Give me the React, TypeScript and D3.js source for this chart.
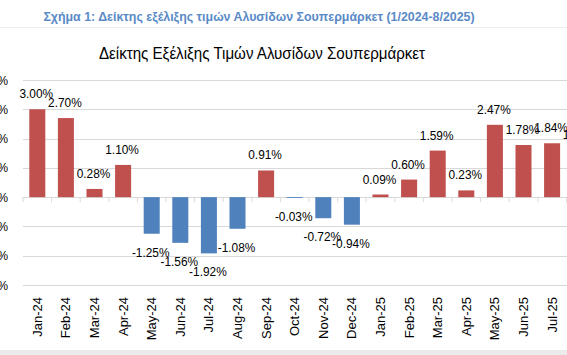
import React from "react";
import * as d3 from "d3";

const categories = ["Jan-24","Feb-24","Mar-24","Apr-24","May-24","Jun-24","Jul-24","Aug-24","Sep-24","Oct-24","Nov-24","Dec-24","Jan-25","Feb-25","Mar-25","Apr-25","May-25","Jun-25","Jul-25","Aug-25"];
const values = [3.00,2.70,0.28,1.10,-1.25,-1.56,-1.92,-1.08,0.91,-0.03,-0.72,-0.94,0.09,0.60,1.59,0.23,2.47,1.78,1.84,1.60];
const yTicks = [-3,-2,-1,0,1,2,3,4];
const caption = "Σχήμα 1: Δείκτης εξέλιξης τιμών Αλυσίδων Σουπερμάρκετ (1/2024-8/2025)";
const title = "Δείκτης Εξέλιξης Τιμών Αλυσίδων Σουπερμάρκετ";

const W = 567, H = 355;
const FONT = "'Liberation Sans', Arial, sans-serif";
const SX = 0.88;

export default function App() {
  const left = 23, step = 28.6;
  const x = d3.scaleBand<string>().domain(categories).range([left, left + step * categories.length]).paddingInner(0.44).paddingOuter(0.22);
  const y = d3.scaleLinear().domain([-3, 4]).range([285, 80]);
  const y0 = y(0);
  const st = x.step();
  const off = (st * 0.44) / 2;
  const fmt = (v: number) => v.toFixed(2) + "%";
  const sq = (tx: number, ty: number, s = SX) => `translate(${tx},${ty}) scale(${s},1)`;

  return (
    <svg width={W} height={H} style={{ position: "absolute", left: 0, top: 0, background: "#fff" }} fontFamily={FONT}>
      <rect x={0} y={0} width={W} height={H} fill="#fff" />
      <text transform={sq(259, 21, 1)} textAnchor="middle" fontSize={12.4} fontWeight="bold" fill="#5A8AC6">{caption}</text>
      <line x1={0} x2={W} y1={27.5} y2={27.5} stroke="#EEEEEE" strokeWidth={1} />
      <text transform={sq(262, 59, 0.9)} textAnchor="middle" fontSize={16.8} fill="#000">{title}</text>
      {yTicks.map(t => (
        <g key={t}>
          <line x1={left} x2={W} y1={Math.round(y(t)) + 0.5} y2={Math.round(y(t)) + 0.5} stroke="#D9D9D9" strokeWidth={1} />
          <text transform={sq(8, y(t) + 4.5)} textAnchor="end" fontSize={13.5} fill="#000">{t + "%"}</text>
        </g>
      ))}
      {categories.map((c) => (
        <line key={"t" + c} x1={(x(c) as number) - off} x2={(x(c) as number) - off} y1={y0} y2={y0 + 5} stroke="#D9D9D9" />
      ))}
      {categories.map((c, i) => {
        const v = values[i];
        const bx = x(c) as number;
        return (
          <rect key={"b" + c} x={bx} width={x.bandwidth()} y={v >= 0 ? y(v) : y0} height={Math.abs(y(v) - y0)} fill={v >= 0 ? "#C0504D" : "#4F81BD"} />
        );
      })}
      {categories.map((c, i) => {
        const v = values[i];
        const cx = (x(c) as number) + x.bandwidth() / 2;
        const ly = v >= 0 ? y(v) - 11 : y(v) + 23;
        return (
          <text key={"l" + c} transform={sq(cx - 1, ly)} textAnchor="middle" fontSize={13.5} fill="#000">{fmt(v)}</text>
        );
      })}
      {categories.map((c) => {
        const cx = (x(c) as number) + x.bandwidth() / 2;
        return (
          <text key={"x" + c} transform={`translate(${cx + 4.5},297) rotate(-90)`} textAnchor="end" fontSize={13} fill="#000">{c}</text>
        );
      })}
      <rect x={0} y={350} width={W} height={5} fill="#EBEBEB" />
    </svg>
  );
}
